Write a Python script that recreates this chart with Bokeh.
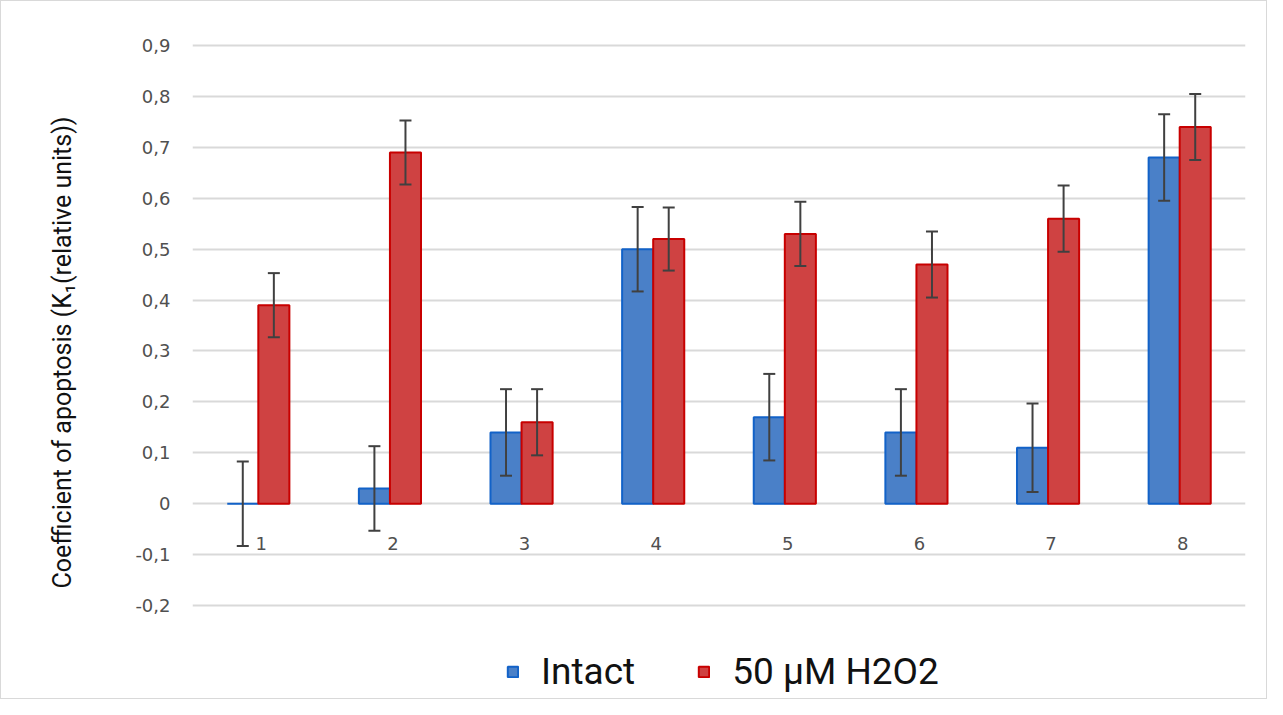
from bokeh.plotting import figure
from bokeh.models import (ColumnDataSource, FactorRange, Range1d, FixedTicker, Whisker,
                          TeeHead, Legend, LegendItem, CustomJSTickFormatter, LabelSet)
from bokeh.core.properties import value
from bokeh.transform import dodge
from bokeh.embed import file_html
from bokeh.resources import INLINE

categories = ["1", "2", "3", "4", "5", "6", "7", "8"]
intact = [0.0, 0.03, 0.14, 0.50, 0.17, 0.14, 0.11, 0.68]
intact_err = [0.083, 0.083, 0.085, 0.083, 0.085, 0.085, 0.087, 0.085]
h2o2 = [0.39, 0.69, 0.16, 0.52, 0.53, 0.47, 0.56, 0.74]
h2o2_err = [0.063, 0.063, 0.065, 0.062, 0.063, 0.065, 0.065, 0.065]
y_ticks = [-0.2, -0.1, 0.0, 0.1, 0.2, 0.3, 0.4, 0.5, 0.6, 0.7, 0.8, 0.9]
series_names = ["Intact", "50 µM H2O2"]

src = ColumnDataSource(dict(
    cat=categories,
    intact=intact,
    h2o2=h2o2,
    i_lo=[v - e for v, e in zip(intact, intact_err)],
    i_hi=[v + e for v, e in zip(intact, intact_err)],
    h_lo=[v - e for v, e in zip(h2o2, h2o2_err)],
    h_hi=[v + e for v, e in zip(h2o2, h2o2_err)],
    zero=[0.0] * len(categories),
))

# the frame extends below -0.2 to leave room for the legend (no grid line there)
p = figure(width=1267, height=699, x_range=FactorRange(*categories, range_padding=0),
           y_range=Range1d(-0.3768, 0.91), output_backend="svg", toolbar_location=None,
           min_border_left=191, min_border_right=23, min_border_top=39, min_border_bottom=5)
p.x_range.range_padding = 0
p.outline_line_color = None
p.styles = {"border": "1px solid #d9d9d9"}

off = 0.118
w = 0.236
blue_fill, blue_line = "#4a80c8", "#1262c8"
red_fill, red_line = "#cf4242", "#c80000"

r1 = p.vbar(x=dodge("cat", -off, range=p.x_range), top="intact", bottom=0, width=w, source=src,
            fill_color=blue_fill, line_color=blue_line, line_width=2)
r2 = p.vbar(x=dodge("cat", off, range=p.x_range), top="h2o2", bottom=0, width=w, source=src,
            fill_color=red_fill, line_color=red_line, line_width=2)

for d, lo, hi in [(-off, "i_lo", "i_hi"), (off, "h_lo", "h_hi")]:
    wh = Whisker(base=dodge("cat", d, range=p.x_range), lower=lo, upper=hi, source=src,
                 line_color="#404040", line_width=2, level="overlay",
                 upper_head=TeeHead(size=12, line_color="#404040", line_width=2),
                 lower_head=TeeHead(size=12, line_color="#404040", line_width=2))
    p.add_layout(wh)

labels = LabelSet(x="cat", y="zero", text="cat", source=src, y_offset=-46, x_offset=3,
                  text_align="center", text_font=value("DejaVu Sans"), text_font_size="18px",
                  text_color="#505050")
p.add_layout(labels)

p.xaxis.visible = False
p.xgrid.grid_line_color = None
p.ygrid.grid_line_color = "#d9d9d9"
p.ygrid.grid_line_width = 2
p.yaxis.ticker = FixedTicker(ticks=y_ticks)
p.ygrid.ticker = FixedTicker(ticks=y_ticks)
p.yaxis.formatter = CustomJSTickFormatter(
    code="var s = (Math.round(tick*10)/10).toString().replace('.', ','); return s;")
p.yaxis.axis_line_color = None
p.yaxis.major_tick_line_color = None
p.yaxis.minor_tick_line_color = None
p.yaxis.major_label_text_font = "DejaVu Sans"
p.yaxis.major_label_text_font_size = "18px"
p.yaxis.major_label_text_color = "#505050"
p.yaxis.major_label_standoff = 16
p.yaxis.axis_label = "\u00a0\u00a0\u00a0\u00a0\u00a0Coefficient of apoptosis (K₁(relative units))"
p.yaxis.axis_label_text_font = "Roboto"
p.yaxis.axis_label_text_font_style = "normal"
p.yaxis.axis_label_text_font_size = "25px"
p.yaxis.axis_label_text_color = "#111111"
p.yaxis.axis_label_standoff = 55

legend = Legend(items=[LegendItem(label=series_names[0], renderers=[r1]),
                       LegendItem(label=series_names[1], renderers=[r2])],
                orientation="horizontal", location=(314, 2),
                label_text_font="Roboto", label_text_font_size="37px",
                label_text_color="#111111",
                glyph_width=13, glyph_height=13, spacing=62, label_standoff=22,
                border_line_color=None, background_fill_alpha=0, padding=8)
p.add_layout(legend, "center")

open("out.html", "w").write(file_html(p, INLINE))
